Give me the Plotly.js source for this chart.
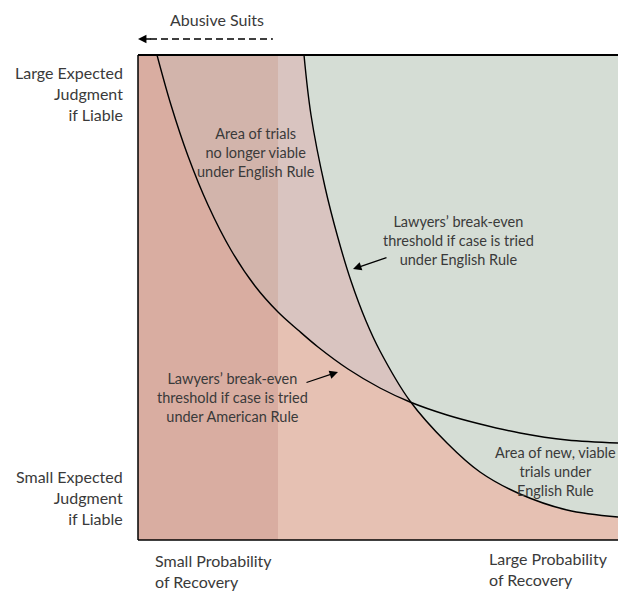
<!DOCTYPE html>
<html>
<head>
<meta charset="utf-8">
<script src="https://cdn.plot.ly/plotly-3.0.1.min.js"></script>
<style>html,body{margin:0;padding:0;background:#fff;}#chart{width:618px;height:592px;}</style>
</head>
<body>
<div id="chart"></div>
<script>
// Break-even threshold under the American Rule (probability of recovery vs expected judgment)
var americanX = [19, 33, 50, 70, 93, 117, 140, 160, 180, 210, 242, 272, 309, 342, 382, 429, 480];
var americanY = [485, 435, 384, 335, 290, 254, 228, 210, 193, 171, 152, 138, 125, 116, 107, 100, 97];
// Break-even threshold under the English Rule
var englishX = [166, 173, 187, 200, 213, 228, 242, 272, 309, 342, 382, 429, 480];
var englishY = [485, 425, 353, 302, 259, 219, 189, 139, 97, 68, 46, 30, 23];
// Abusive-suit band (small probability of recovery)
var abusiveMaxX = 140;
var axisMax = {x: 480, y: 485};

var font = "Lato, 'Open Sans', sans-serif";
var txt = '#3a3a3a';

var stripX = [], stripY = [];
for (var i = 0; i < americanX.length; i++) {
  if (americanX[i] <= abusiveMaxX) { stripX.push(americanX[i]); stripY.push(americanY[i]); }
}

var noLine = {width: 0, shape: 'spline'};
var traces = [
  {x: [americanX[0], axisMax.x], y: [axisMax.y, axisMax.y], mode: 'lines', line: {width: 0}, hoverinfo: 'skip'},
  {x: americanX, y: americanY, mode: 'lines', line: noLine, fill: 'tonexty', fillcolor: '#d9c4c0', hoverinfo: 'skip'},
  {x: [stripX[0], abusiveMaxX], y: [axisMax.y, axisMax.y], mode: 'lines', line: {width: 0}, hoverinfo: 'skip'},
  {x: stripX, y: stripY, mode: 'lines', line: noLine, fill: 'tonexty', fillcolor: '#d2b4ab', hoverinfo: 'skip'},
  {x: [englishX[0], axisMax.x], y: [axisMax.y, axisMax.y], mode: 'lines', line: {width: 0}, hoverinfo: 'skip'},
  {x: englishX, y: englishY, mode: 'lines', line: noLine, fill: 'tonexty', fillcolor: '#d5ddd5', hoverinfo: 'skip'},
  {x: americanX, y: americanY, mode: 'lines', line: {color: '#000', width: 1.4, shape: 'spline'}, hoverinfo: 'skip'},
  {x: englishX, y: englishY, mode: 'lines', line: {color: '#000', width: 1.4, shape: 'spline'}, hoverinfo: 'skip'}
];

function ann(text, x, y, opts) {
  var a = {text: text, x: x, y: y, xref: 'x', yref: 'y', showarrow: false,
    font: {family: font, size: 14.5, color: txt}, align: 'center', xanchor: 'center', yanchor: 'middle'};
  for (var k in opts) a[k] = opts[k];
  return a;
}
var big = {family: font, size: 16, color: txt};

var annotations = [
  ann('Area of trials<br>no longer viable<br>under English Rule', 118, 388),
  ann('Lawyers\u2019 break-even<br>threshold if case is tried<br>under English Rule', 320, 300),
  ann('Lawyers\u2019 break-even<br>threshold if case is tried<br>under American Rule', 94, 143),
  ann('Area of new, viable<br>trials under<br>English Rule', 417, 69),
  {text: '', x: 215, y: 271, xref: 'x', yref: 'y', showarrow: true, ax: 35, ay: -12,
   arrowhead: 2, arrowsize: 1.3, arrowwidth: 1.3, arrowcolor: '#000'},
  {text: '', x: 200, y: 168, xref: 'x', yref: 'y', showarrow: true, ax: -33, ay: 11,
   arrowhead: 2, arrowsize: 1.3, arrowwidth: 1.3, arrowcolor: '#000'},
  ann('Large Expected<br>Judgment<br>if Liable', -0.028, 0.9196,
      {xref: 'paper', yref: 'paper', xanchor: 'right', align: 'right', font: big}),
  ann('Small Expected<br>Judgment<br>if Liable', -0.028, 0.0866,
      {xref: 'paper', yref: 'paper', xanchor: 'right', align: 'right', font: big}),
  ann('Small Probability<br>of Recovery', 0.031, -0.0639,
      {xref: 'paper', yref: 'paper', xanchor: 'left', align: 'left', font: big}),
  ann('Large Probability<br>of Recovery', 0.727, -0.0598,
      {xref: 'paper', yref: 'paper', xanchor: 'left', align: 'left', font: big}),
  ann('Abusive Suits', 0.1646, 1.0722,
      {xref: 'paper', yref: 'paper', font: big}),
  {text: '', x: 0, y: 1.033, xref: 'paper', yref: 'paper', showarrow: true, ax: 14, ay: 0,
   arrowhead: 2, arrowsize: 1.3, arrowwidth: 1.3, arrowcolor: '#000'}
];

var shapes = [
  {type: 'rect', xref: 'x', yref: 'y', x0: 0, x1: abusiveMaxX, y0: 0, y1: axisMax.y,
   fillcolor: '#d9ada1', line: {width: 0}, layer: 'below'},
  {type: 'line', xref: 'paper', yref: 'paper', x0: 0.025, x1: 0.281, y0: 1.033, y1: 1.033,
   line: {color: '#000', width: 1.3, dash: '7px,4px'}},
  {type: 'line', xref: 'paper', yref: 'paper', x0: 0, x1: 0, y0: 0, y1: 1, line: {color: '#000', width: 1.5}},
  {type: 'line', xref: 'paper', yref: 'paper', x0: 0, x1: 1, y0: 1, y1: 1, line: {color: '#000', width: 2}},
  {type: 'line', xref: 'paper', yref: 'paper', x0: 0, x1: 1, y0: 0, y1: 0, line: {color: '#000', width: 1.5}}
];

var axisOff = {showgrid: false, zeroline: false, showticklabels: false, showline: false, ticks: '', fixedrange: true};
var layout = {
  width: 618, height: 592,
  margin: {l: 138, r: 0, t: 55, b: 52},
  paper_bgcolor: '#ffffff',
  plot_bgcolor: '#e6c1b3',
  showlegend: false,
  xaxis: Object.assign({range: [0, axisMax.x]}, axisOff),
  yaxis: Object.assign({range: [0, axisMax.y]}, axisOff),
  annotations: annotations,
  shapes: shapes
};

Plotly.newPlot('chart', traces, layout, {displayModeBar: false, staticPlot: true});
</script>
</body>
</html>
